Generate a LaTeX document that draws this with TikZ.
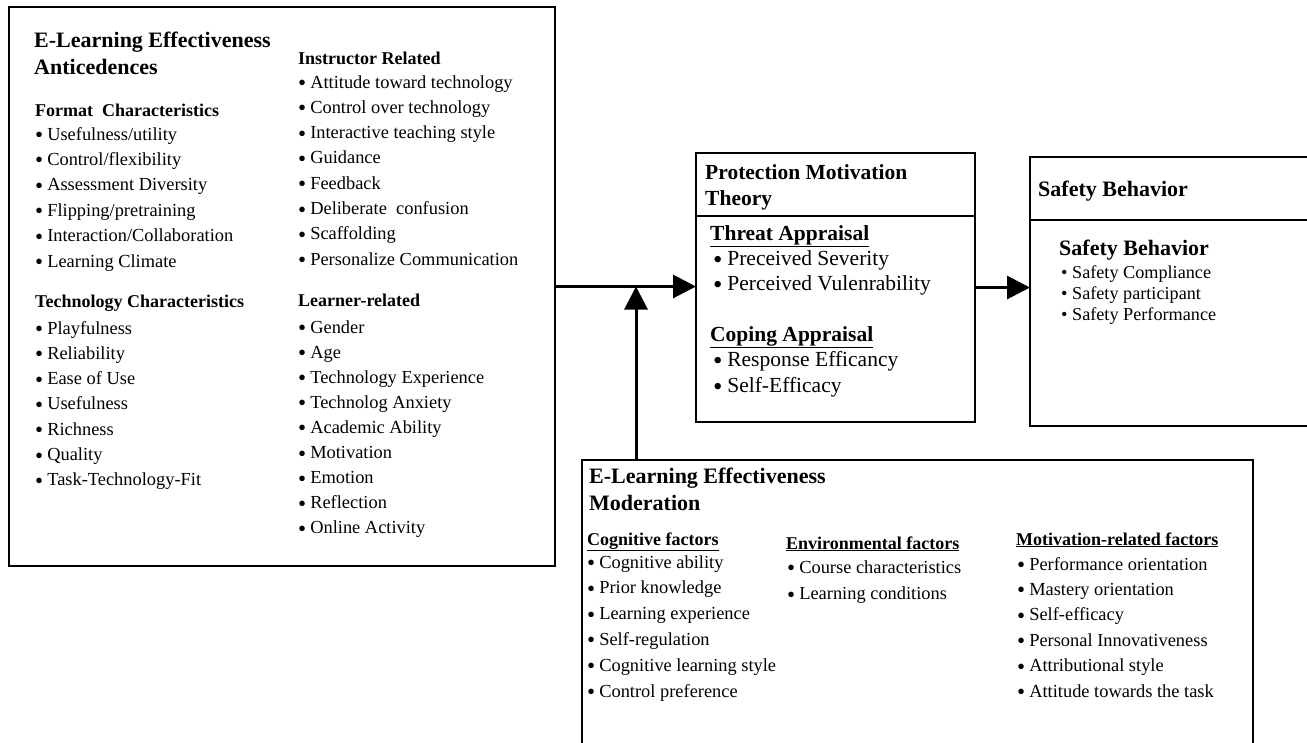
\documentclass[tikz,border=0pt]{standalone}
\usepackage{fontspec}
\setmainfont{Liberation Serif}
\usetikzlibrary{arrows.meta}
\newcommand{\bul}{\raisebox{-0.14em}{\scalebox{1.25}{•}}\hspace{0.22em}}
\begin{document}
\begin{tikzpicture}[x=1pt,y=-1pt,
  box/.style={draw, line width=1.3pt, inner sep=0pt, outer sep=0pt, anchor=north west},
  it/.style={anchor=base west, inner sep=0pt, font=\fontsize{18.4}{22}\selectfont},
  hd/.style={anchor=base west, inner sep=0pt, font=\fontsize{18}{22}\selectfont\bfseries},
  ttl/.style={anchor=base west, inner sep=0pt, font=\fontsize{22}{26}\selectfont\bfseries},
  mit/.style={anchor=base west, inner sep=0pt, font=\fontsize{21.5}{26}\selectfont},
  mhd/.style={anchor=base west, inner sep=0pt, font=\fontsize{21.5}{26}\selectfont\bfseries},
  arr/.style={line width=3pt, -{Triangle[length=23pt,width=23pt]}},
  divline/.style={line width=1.3pt}]
\useasboundingbox (0,0) rectangle (1307,742);
\clip (0,0) rectangle (1307,742);

% boxes
\node[box, minimum width=546pt, minimum height=559pt] (ante) at (9,7) {};
\node[box, minimum width=279pt, minimum height=269pt] (pmt) at (696,153) {};
\node[box, minimum width=300pt, minimum height=269pt] (safe) at (1030,157) {};
\node[box, minimum width=671pt, minimum height=300pt] (mod) at (582,460) {};
\draw[divline] (pmt.west |- 0,216) -- (pmt.east |- 0,216);
\draw[divline] (safe.west |- 0,220) -- (safe.east |- 0,220);

% connectors
\coordinate (join) at (636,286.5);
\draw[arr] (ante.east) -- (ante.east -| pmt.west);
\draw[arr] (pmt.east) -- (pmt.east -| safe.west);
\draw[arr] (mod.north -| join) -- (join);

% left box
\node[ttl] (at1) at (34,47) {E-Learning Effectiveness};
\node[ttl] (at2) at (34,74) {Anticedences};
\node[hd] (fch) at (35,116) {Format\ \ Characteristics};
\foreach \t [count=\i] in {Usefulness/utility,Control/flexibility,Assessment Diversity,Flipping/pretraining,Interaction/Collaboration,Learning Climate}
  \node[it] (fc\i) at (35,{140+25.4*(\i-1)}) {\bul\t};
\node[hd] (tch) at (35,307) {Technology Characteristics};
\foreach \t [count=\i] in {Playfulness,Reliability,Ease of Use,Usefulness,Richness,Quality,Task-Technology-Fit}
  \node[it] (tc\i) at (35,{334+25.3*(\i-1)}) {\bul\t};
\node[hd] (irh) at (298,64) {Instructor Related};
\foreach \t [count=\i] in {Attitude toward technology,Control over technology,Interactive teaching style,Guidance,Feedback,Deliberate\ \ confusion,Scaffolding,Personalize Communication}
  \node[it] (ir\i) at (298,{88+25.3*(\i-1)}) {\bul\t};
\node[hd] (lrh) at (298,306) {Learner-related};
\foreach \t [count=\i] in {Gender,Age,Technology Experience,Technolog Anxiety,Academic Ability,Motivation,Emotion,Reflection,Online Activity}
  \node[it] (lr\i) at (298,{333+25.1*(\i-1)}) {\bul\t};

% protection motivation theory
\node[mhd] (p1) at (705,179) {Protection Motivation};
\node[mhd] (p2) at (705,205) {Theory};
\node[mhd] (tah) at (710,240) {\underline{Threat Appraisal}};
\node[mit] (ta1) at (713,265) {\bul Preceived Severity};
\node[mit] (ta2) at (713,290) {\bul Perceived Vulenrability};
\node[mhd] (cah) at (710,341) {\underline{Coping Appraisal}};
\node[mit] (ca1) at (713,366) {\bul Response Efficancy};
\node[mit] (ca2) at (713,392) {\bul Self-Efficacy};

% safety behavior
\node[ttl] (s1) at (1038,196) {Safety Behavior};
\node[ttl] (s2) at (1059,255) {Safety Behavior};
\node[it, font=\fontsize{18.2}{22}\selectfont] (sb1) at (1061,278) {• Safety Compliance};
\node[it, font=\fontsize{18.2}{22}\selectfont] (sb2) at (1061,299) {• Safety participant};
\node[it, font=\fontsize{18.2}{22}\selectfont] (sb3) at (1061,320) {• Safety Performance};

% moderation
\node[ttl] (m1) at (589,483) {E-Learning Effectiveness};
\node[ttl] (m2) at (589,510) {Moderation};
\node[hd] (cfh) at (587,545) {\underline{Cognitive factors}};
\foreach \t [count=\i] in {Cognitive ability,Prior knowledge,Learning experience,Self-regulation,Cognitive learning style,Control preference}
  \node[it] (cf\i) at (587,{568+25.8*(\i-1)}) {\bul\t};
\node[hd] (efh) at (786,549) {\underline{Environmental factors}};
\foreach \t [count=\i] in {Course characteristics,Learning conditions}
  \node[it] (ef\i) at (787,{573+26.5*(\i-1)}) {\bul\t};
\node[hd] (mfh) at (1016,545) {\underline{Motivation-related factors}};
\foreach \t [count=\i] in {Performance orientation,Mastery orientation,Self-efficacy,Personal Innovativeness,Attributional style,Attitude towards the task}
  \node[it] (mf\i) at (1017,{570+25.4*(\i-1)}) {\bul\t};
\end{tikzpicture}
\end{document}
